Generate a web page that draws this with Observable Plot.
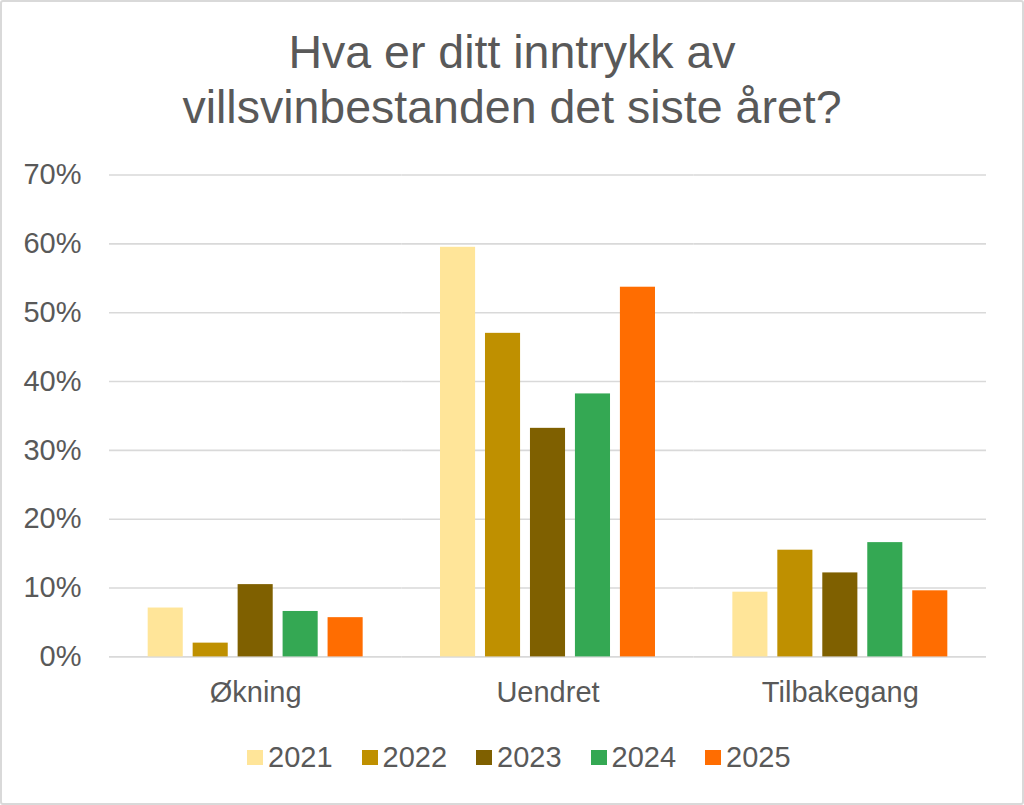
<!DOCTYPE html>
<html>
<head>
<meta charset="utf-8">
<script src="https://cdn.jsdelivr.net/npm/d3@7"></script>
<script src="https://cdn.jsdelivr.net/npm/@observablehq/plot@0.6"></script>
<style>
  html, body { margin: 0; padding: 0; background: #fff; }
  #wrap { position: relative; width: 1024px; height: 805px; overflow: hidden; background: #fff;
          font-family: "Liberation Sans", Arial, sans-serif; color: #595959; }
  #border { position: absolute; left: 0; top: 0; width: 1024px; height: 805px; box-sizing: border-box;
            border: 2px solid #d9d9d9; border-radius: 3px; pointer-events: none; }
  #title { position: absolute; left: 0; top: 25px; width: 1024px; text-align: center;
           font-size: 46.5px; line-height: 55px; color: #595959; }
  #chart { position: absolute; left: 0; top: 150px; }
  #legend { position: absolute; left: 247px; top: 742px; display: flex; gap: 29px;
            font-size: 29px; line-height: 30px; color: #595959; }
  .item { display: flex; align-items: center; gap: 5px; }
  .sw { width: 16px; height: 15px; display: inline-block; margin-top: 1px; }
</style>
</head>
<body>
<div id="wrap">
  <div id="title">Hva er ditt inntrykk av<br>villsvinbestanden det siste året?</div>
  <div id="chart"></div>
  <div id="legend"></div>
  <div id="border"></div>
</div>
<script>
const groups = ["Økning", "Uendret", "Tilbakegang"];
const years = ["2021", "2022", "2023", "2024", "2025"];
const values2021 = [7.1, 59.5, 9.4];
const values2022 = [2.0, 47.0, 15.5];
const values2023 = [10.5, 33.2, 12.2];
const values2024 = [6.6, 38.2, 16.6];
const values2025 = [5.7, 53.7, 9.6];
const yTicks = [0, 10, 20, 30, 40, 50, 60, 70];
const colors = ["#FFE599", "#BF9000", "#7F6000", "#34A853", "#FF6D01"];

const series = [values2021, values2022, values2023, values2024, values2025];
const data = [];
years.forEach((yr, i) => {
  groups.forEach((g, j) => data.push({group: g, year: yr, value: series[i][j]}));
});

const chart = Plot.plot({
  width: 1024,
  height: 570,
  marginLeft: 109,
  marginRight: 38,
  marginTop: 24.5,
  marginBottom: 63.6,
  style: {fontFamily: "Liberation Sans, Arial, sans-serif", fontSize: "29px", color: "#595959", background: "transparent"},
  fx: {domain: groups, padding: 0, round: false, axis: "bottom", tickSize: 0, tickPadding: 25, label: null},
  x: {domain: years, axis: null, round: false, paddingInner: 0.22, paddingOuter: 0.86},
  y: {domain: [0, 70], ticks: yTicks, tickSize: 0, tickPadding: 28, tickFormat: d => d + "%", label: null},
  color: {domain: years, range: colors},
  marks: [
    Plot.ruleY(yTicks, {stroke: "#d9d9d9", strokeWidth: 1.6}),
    Plot.barY(data, {fx: "group", x: "year", y: "value", fill: "year"})
  ]
});
document.getElementById("chart").appendChild(chart);

const legend = document.getElementById("legend");
years.forEach((yr, i) => {
  const item = document.createElement("div");
  item.className = "item";
  const sw = document.createElement("span");
  sw.className = "sw";
  sw.style.background = colors[i];
  const t = document.createElement("span");
  t.textContent = yr;
  item.appendChild(sw);
  item.appendChild(t);
  legend.appendChild(item);
});
</script>
</body>
</html>
